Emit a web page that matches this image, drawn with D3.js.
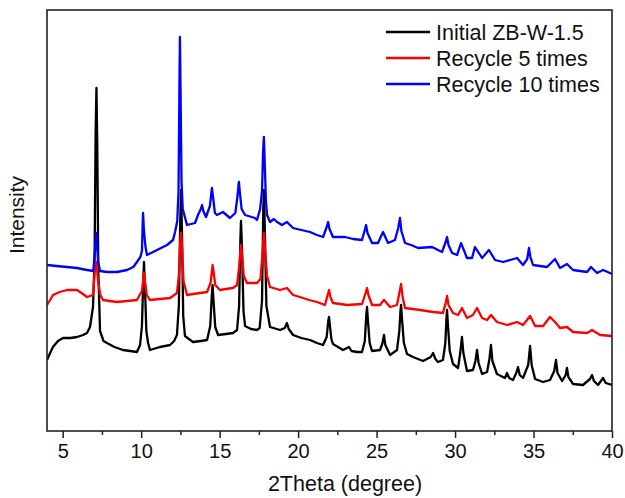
<!DOCTYPE html>
<html>
<head>
<meta charset="utf-8">
<script src="https://cdn.jsdelivr.net/npm/d3@7"></script>
<style>
  html, body { margin: 0; padding: 0; background: #fff; }
  svg { display: block; font-family: "Liberation Sans", Arial, sans-serif; }
</style>
</head>
<body>
<svg id="chart" width="625" height="498"></svg>
<script>
// ---- Data (2Theta in degrees, intensity in arbitrary units incl. stacking offset) ----
const seriesNames = ["Initial ZB-W-1.5", "Recycle 5 times", "Recycle 10 times"];
const seriesColors = ["#000000", "#ff0000", "#0000ff"];

const initialZB = [
  [4.00,71],[4.20,78],[4.38,84],[4.70,90],[5.02,93],[5.50,93],[5.91,94],[6.30,96],[6.55,98],[6.74,104],[6.93,124],
  [7.03,170],[7.10,300],[7.15,343],[7.20,290],[7.27,160],[7.38,100],[7.60,90],[7.82,88],[8.30,84],[8.84,81],[9.30,80],[9.73,79],
  [9.93,86],[10.05,105],[10.13,150],[10.18,169],[10.24,145],[10.33,100],[10.44,88],[10.56,81],[11.20,84],[11.84,86],
  [12.10,90],[12.28,96],[12.40,125],[12.49,210],[12.54,241],[12.60,200],[12.68,115],[12.79,95],[13.30,89],[13.80,90],[14.20,91],
  [14.40,105],[14.50,135],[14.55,146],[14.62,128],[14.72,104],[14.90,96],[15.40,97],[15.85,98],[16.11,101],
  [16.24,125],[16.32,190],[16.36,210],[16.42,185],[16.52,120],[16.62,105],[17.00,102],[17.38,101],[17.55,103],
  [17.70,130],[17.78,220],[17.82,241],[17.88,200],[17.98,125],[18.21,104],[18.85,101],[19.15,103],[19.29,108],[19.40,102],[19.68,96],
  [20.20,93],[20.76,91],[21.20,88],[21.59,86],[21.82,94],[21.92,110],[21.97,114],[22.03,105],[22.12,92],[22.22,87],
  [22.86,81],[23.24,84],[23.40,80],[23.75,79],[24.07,79],[24.25,90],[24.34,115],[24.39,124],[24.45,110],[24.56,88],
  [24.71,80],[25.22,81],[25.38,88],[25.47,96],[25.56,86],[25.86,76],[26.30,81],[26.45,100],[26.52,120],[26.56,126],
  [26.62,112],[26.74,88],[26.94,77],[27.32,74],[27.96,70],[28.45,74],[28.60,78],[28.75,72],[28.91,69],[29.23,71],
  [29.38,88],[29.45,112],[29.49,121],[29.55,105],[29.66,80],[29.87,67],[30.19,63],[30.33,78],[30.44,94],[30.53,78],
  [30.76,60],[31.14,61],[31.30,70],[31.40,81],[31.50,68],[31.72,57],[32.04,59],[32.19,72],[32.29,86],[32.38,70],
  [32.67,57],[33.18,53],[33.31,58],[33.45,53],[33.69,51],[33.90,58],[34.01,64],[34.12,56],[34.33,53],[34.66,66],
  [34.78,85],[34.88,66],[35.10,52],[35.61,49],[36.05,51],[36.32,60],[36.43,71],[36.53,58],[36.82,50],[37.05,56],
  [37.13,63],[37.22,54],[37.52,47],[38.15,46],[38.60,52],[38.73,56],[38.85,50],[39.11,46],[39.43,53],[39.60,48],[40.00,46]
];

const recycle5 = [
  [4.00,126],[4.20,131],[4.38,136],[4.80,139],[5.27,141],[5.91,141],[6.20,138],[6.55,134],[6.93,136],[7.05,160],
  [7.15,169],[7.25,150],[7.40,136],[7.57,131],[8.00,130],[8.46,129],[9.10,130],[9.73,131],[10.05,140],[10.13,152],
  [10.18,158],[10.24,150],[10.36,136],[10.56,131],[11.20,132],[11.84,133],[12.28,138],[12.40,155],[12.49,188],
  [12.54,198],[12.60,185],[12.70,150],[12.92,136],[13.30,137],[13.75,138],[14.20,139],[14.42,148],[14.51,160],
  [14.55,166],[14.61,160],[14.72,146],[15.02,141],[15.40,142],[15.85,143],[16.11,146],[16.25,165],[16.32,180],
  [16.36,186],[16.42,178],[16.54,155],[16.74,148],[17.38,148],[17.60,152],[17.72,175],[17.82,198],[17.90,180],
  [18.02,155],[18.21,144],[18.85,141],[19.29,143],[19.68,136],[20.12,134],[20.70,131],[21.20,129],[21.71,126],
  [21.88,136],[21.97,141],[22.06,134],[22.22,128],[23.12,126],[24.07,127],[24.30,138],[24.39,143],[24.48,136],
  [24.71,126],[25.22,126],[25.47,131],[25.86,124],[26.30,126],[26.45,138],[26.56,147],[26.66,134],[26.81,123],
  [27.30,122],[27.77,121],[28.60,119],[29.23,118],[29.40,128],[29.49,135],[29.58,126],[29.87,118],[30.19,116],
  [30.44,123],[30.76,113],[31.14,116],[31.40,123],[31.72,113],[32.04,111],[32.29,116],[32.67,109],[33.31,106],
  [33.95,109],[34.33,106],[34.78,115],[35.10,105],[35.61,105],[35.85,110],[36.05,114],[36.37,109],[36.69,103],
  [37.13,104],[37.52,99],[38.41,98],[38.73,101],[39.24,96],[40.00,95]
];

const recycle10 = [
  [4.00,166],[4.60,165],[5.27,164],[5.90,163],[6.55,161],[6.95,160],[7.08,185],[7.15,198],[7.25,170],[7.38,160],
  [7.82,159],[8.46,159],[9.10,161],[9.50,164],[9.73,169],[9.95,174],[10.05,180],[10.10,210],[10.12,218],[10.18,200],
  [10.27,185],[10.37,176],[11.01,181],[11.65,186],[12.03,191],[12.16,199],[12.30,210],[12.38,240],[12.44,350],
  [12.47,394],[12.51,340],[12.57,250],[12.65,222],[12.92,206],[13.43,208],[13.62,216],[13.80,222],[13.88,226],
  [13.96,220],[14.13,214],[14.38,225],[14.47,238],[14.51,243],[14.57,235],[14.70,218],[14.83,216],[15.21,219],
  [15.66,213],[16.00,218],[16.14,235],[16.20,246],[16.23,249],[16.28,240],[16.40,222],[16.62,216],[17.25,213],
  [17.38,211],[17.58,222],[17.70,240],[17.77,280],[17.82,294],[17.87,270],[17.95,230],[18.02,216],[18.21,209],
  [18.45,212],[18.66,209],[18.97,206],[19.29,209],[19.68,203],[20.20,201],[20.76,199],[21.20,196],[21.59,194],
  [21.82,204],[21.91,209],[22.00,202],[22.22,194],[22.99,194],[23.50,192],[24.07,191],[24.25,201],[24.33,206],
  [24.42,198],[24.71,188],[25.09,188],[25.41,199],[25.73,188],[26.17,191],[26.38,203],[26.49,213],[26.58,200],
  [26.81,188],[27.20,186],[27.64,183],[28.53,184],[29.17,179],[29.40,189],[29.49,194],[29.58,186],[29.81,178],
  [30.13,176],[30.38,188],[30.76,173],[31.08,173],[31.27,184],[31.72,173],[32.16,181],[32.55,171],[33.06,169],
  [33.95,173],[34.33,166],[34.60,172],[34.71,183],[34.80,174],[34.97,166],[35.86,164],[36.37,172],[36.69,163],
  [37.13,167],[37.52,161],[38.41,159],[38.66,164],[39.05,158],[39.43,161],[40.00,157]
];

const xDomain = [4, 40];
const yDomain = [0, 421];
const xTickValues = [5, 10, 15, 20, 25, 30, 35, 40];
const xMinorTicks = [7.5, 12.5, 17.5, 22.5, 27.5, 32.5, 37.5];
const xLabel = "2Theta (degree)";
const yLabel = "Intensity";

// ---- Layout ----
const svg = d3.select("#chart");
const m = { left: 47, top: 10, right: 612, bottom: 431 };
const x = d3.scaleLinear().domain(xDomain).range([m.left, m.right]);
const y = d3.scaleLinear().domain(yDomain).range([m.bottom, m.top]);

svg.append("rect").attr("width", 625).attr("height", 498).attr("fill", "#fff");

const line = d3.line().x(d => x(d[0])).y(d => y(d[1]));

svg.append("clipPath").attr("id", "clip")
  .append("rect").attr("x", m.left).attr("y", m.top)
  .attr("width", m.right - m.left).attr("height", m.bottom - m.top);

const data = [initialZB, recycle5, recycle10];
const g = svg.append("g").attr("clip-path", "url(#clip)");
data.forEach((s, i) => {
  g.append("path").datum(s)
    .attr("d", line)
    .attr("fill", "none")
    .attr("stroke", seriesColors[i])
    .attr("stroke-width", 2.3)
    .attr("stroke-linejoin", "round");
});

// Frame
svg.append("rect")
  .attr("x", m.left).attr("y", m.top)
  .attr("width", m.right - m.left).attr("height", m.bottom - m.top)
  .attr("fill", "none").attr("stroke", "#222").attr("stroke-width", 1.6);

// X axis (major + minor ticks)
const xAxis = d3.axisBottom(x).tickValues(xTickValues).tickSize(7).tickPadding(6).tickFormat(d3.format("d"));
const ax = svg.append("g").attr("transform", `translate(0,${m.bottom})`).call(xAxis);
ax.select(".domain").remove();
ax.selectAll(".tick line").attr("stroke", "#222").attr("stroke-width", 1.5);
ax.selectAll(".tick text").attr("fill", "#111").style("font-size", "20px")
  .style("font-family", "'Liberation Sans', Arial, sans-serif");

const axMinor = d3.axisBottom(x).tickValues(xMinorTicks).tickSize(4).tickFormat("");
const am = svg.append("g").attr("transform", `translate(0,${m.bottom})`).call(axMinor);
am.select(".domain").remove();
am.selectAll(".tick line").attr("stroke", "#222").attr("stroke-width", 1.5);

// Axis titles
svg.append("text").attr("x", 345).attr("y", 491).attr("text-anchor", "middle")
  .style("font-size", "21.5px").attr("fill", "#111").text(xLabel);
svg.append("text").attr("transform", "translate(24,215) rotate(-90)").attr("text-anchor", "middle")
  .style("font-size", "21px").attr("fill", "#111").text(yLabel);

// Legend
const leg = svg.append("g");
seriesNames.forEach((name, i) => {
  const cy = 32 + i * 26;
  leg.append("line").attr("x1", 386).attr("x2", 430).attr("y1", cy).attr("y2", cy)
    .attr("stroke", seriesColors[i]).attr("stroke-width", 2.5);
  leg.append("text").attr("x", 436).attr("y", cy + 7.5)
    .style("font-size", "21.5px").attr("fill", "#111").text(name);
});
</script>
</body>
</html>
